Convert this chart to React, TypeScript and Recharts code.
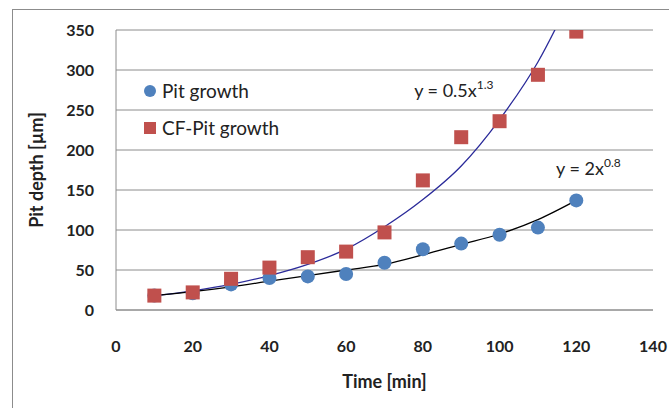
import React from 'react';
import {
  ComposedChart, Scatter, Line, XAxis, YAxis, CartesianGrid, ReferenceDot, Label
} from 'recharts';

const times = [10, 20, 30, 40, 50, 60, 70, 80, 90, 100, 110, 120];
const pitGrowth = [18, 21, 32, 40, 42, 45, 59, 76, 83, 94, 103, 137];
const cfPitGrowth = [18, 22, 39, 53, 66, 73, 97, 162, 216, 236, 294, 348];
// trend lines
const pitFit = [18, 23, 29, 36, 43, 50, 57, 69, 82, 95, 113, 137];
const cfFit = [18, 24, 32, 43, 57, 76, 104, 138, 180, 238, 310, 405];

const xTicks = [0, 20, 40, 60, 80, 100, 120, 140];
const yTicks = [0, 50, 100, 150, 200, 250, 300, 350];

const BLUE = '#4f81bd';
const RED = '#c0504d';
const FONT = 'Lato, "Open Sans", sans-serif';

const rows = times.map((t, i) => ({
  t,
  pit: pitGrowth[i],
  cf: cfPitGrowth[i],
  pitFit: pitFit[i],
  cfFit: cfFit[i],
}));

const circleShape = (p: any) => <circle cx={p.cx} cy={p.cy} r={7} fill={BLUE} />;
const squareShape = (p: any) => <rect x={p.cx - 7} y={p.cy - 7} width={14} height={14} fill={RED} />;

const legendItems = [
  { name: 'Pit growth', color: BLUE, kind: 'circle' },
  { name: 'CF-Pit growth', color: RED, kind: 'square' },
];

const eqLabel = (main: string, sup: string) => (props: any) => {
  const { x, y } = props.viewBox;
  return (
    <text x={x} y={y} fontFamily={FONT} fontSize={18} fill="#222">
      <tspan>{main}</tspan>
      <tspan dy={-8} fontSize={12}>{sup}</tspan>
    </text>
  );
};

export default function App() {
  return (
    <div style={{ position: 'absolute', left: 0, top: 0, width: 669, height: 408, background: '#fff', overflow: 'hidden' }}>
      <div style={{ position: 'absolute', left: 12, top: 9, width: 700, height: 450, border: '1px solid #8c8c8c' }} />
      <ComposedChart
        width={669}
        height={408}
        data={rows}
        margin={{ top: 30, right: 16, bottom: 68, left: 0 }}
        style={{ position: 'absolute', left: 0, top: 0 }}
      >
        <CartesianGrid horizontal vertical={false} stroke="#8c8c8c" />
        <XAxis
          type="number"
          dataKey="t"
          domain={[0, 140]}
          ticks={xTicks}
          tickLine={false}
          tickSize={0}
          tickMargin={31}
          axisLine={{ stroke: '#8c8c8c' }}
          tick={{ fontFamily: FONT, fontSize: 16, fontWeight: 700, fill: '#222' }}
        >
          <Label value="Time [min]" position="bottom" offset={35}
            style={{ fontFamily: FONT, fontSize: 18, fontWeight: 700, fill: '#222' }} />
        </XAxis>
        <YAxis
          type="number"
          domain={[0, 350]}
          ticks={yTicks}
          allowDataOverflow
          width={116}
          tickLine={false}
          tickSize={0}
          tickMargin={22}
          axisLine={{ stroke: '#8c8c8c' }}
          tick={{ fontFamily: FONT, fontSize: 16, fontWeight: 700, fill: '#222' }}
        >
          <Label value="Pit depth [µm]" angle={-90} position="insideLeft" offset={37}
            style={{ fontFamily: FONT, fontSize: 18, fontWeight: 700, fill: '#222', textAnchor: 'middle' }} />
        </YAxis>
        <Scatter name="Pit growth" dataKey="pit" fill={BLUE} shape={circleShape} isAnimationActive={false} />
        <Scatter name="CF-Pit growth" dataKey="cf" fill={RED} shape={squareShape} isAnimationActive={false} />
        <Line dataKey="cfFit" type="monotone" stroke="#2b2b9a" strokeWidth={1.3} dot={false} legendType="none" isAnimationActive={false} />
        <Line dataKey="pitFit" type="monotone" stroke="#000" strokeWidth={1.3} dot={false} legendType="none" isAnimationActive={false} />
        <ReferenceDot x={78} y={265} r={1} fill="none" stroke="none" label={eqLabel('y = 0.5x', '1.3')} />
        <ReferenceDot x={115} y={167} r={1} fill="none" stroke="none" label={eqLabel('y = 2x', '0.8')} />
      </ComposedChart>
      <div style={{ position: 'absolute', left: 143, top: 72, fontFamily: FONT, fontSize: 19, color: '#222' }}>
        {legendItems.map((it) => (
          <div key={it.name} style={{ display: 'flex', alignItems: 'center', height: 37 }}>
            <svg width={14} height={14} style={{ marginRight: 5 }}>
              {it.kind === 'circle'
                ? <circle cx={7} cy={7} r={6} fill={it.color} />
                : <rect x={1} y={1} width={12} height={12} fill={it.color} />}
            </svg>
            {it.name}
          </div>
        ))}
      </div>
    </div>
  );
}
